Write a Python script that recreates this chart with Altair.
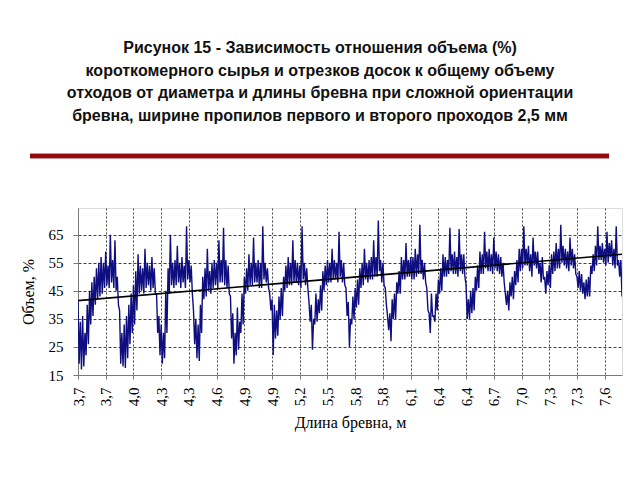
import json
import altair as alt
import pandas as pd

# ---- data ----
title_lines = [
    "Рисунок 15 - Зависимость отношения объема (%)",
    "короткомерного сырья и отрезков досок к общему объему",
    "отходов от диаметра и длины бревна при сложной ориентации",
    "бревна, ширине пропилов первого и второго проходов 2,5 мм",
]

length_labels = ["3,7", "3,7", "4,0", "4,3", "4,3", "4,6", "4,9", "4,9", "5,2", "5,5",
                 "5,8", "5,8", "6,1", "6,4", "6,4", "6,7", "7,0", "7,3", "7,3", "7,6"]
points_per_label = 24

# one row per labelled interval of the category axis (the noisy curve swings up and down at every point)
volume = [
    41, 19, 34, 17, 36, 18, 30, 22, 40, 26, 45, 33, 48, 36, 50, 40, 53, 42, 55, 43, 57, 44, 55, 46,
    59, 47, 54, 46, 65, 48, 56, 46, 63, 45, 50, 40, 38, 19, 30, 18, 33, 17.5, 36, 21, 40, 26, 44, 30,
    47, 33, 52, 38, 58, 44, 54, 45, 53, 44, 60, 46, 55, 47, 54, 45, 57, 46, 53, 44, 44, 30, 36, 22,
    33, 19, 30, 21, 45, 30, 53, 44, 65, 47, 55, 46, 56, 47, 61, 48, 55, 46, 57, 48, 54, 46, 68, 49,
    56, 48, 54, 44, 38, 26, 35, 21, 33, 20, 40, 30, 50, 42, 53, 43, 60, 45, 52, 44, 55, 46, 56, 47,
    55, 46, 63, 48, 56, 48, 67.5, 47, 56, 46, 54, 44, 43, 28, 37, 19, 30, 22, 39, 24, 34, 30, 44, 33,
    50, 44, 53, 45, 58, 47, 55, 47, 64, 48, 55, 48, 56, 46, 55, 46, 68, 49, 55, 48, 53, 46, 44, 38,
    42, 22, 40, 28, 38, 29, 43, 35, 46, 36, 50, 45, 54, 46, 57, 47, 55, 47, 63, 48, 56, 48, 55, 47,
    54, 46, 68, 49, 55, 47, 53, 46, 41, 34, 40, 24, 35, 33, 44, 34, 42, 37, 47, 38, 52, 45, 54, 47,
    56, 48, 55, 48, 60, 49, 56, 49, 55, 48, 66, 50, 56, 48, 55, 47, 46, 36, 41, 25, 35, 33, 43, 35,
    46, 39, 49, 40, 53, 46, 55, 47, 60, 49, 55, 48, 56, 49, 57, 49, 63, 50, 57, 50, 70, 52, 56, 48,
    55, 47, 46, 40, 36, 31, 37, 27, 42, 35, 44, 35, 48, 44, 52, 44, 57, 49, 56, 49, 62, 50, 56, 50,
    57, 49, 57, 49, 60, 50, 58, 51, 68.5, 51, 56, 49, 55, 48, 46, 38, 37, 30, 44, 36, 36, 34, 44, 38,
    49, 44, 53, 45, 58, 50, 57, 50, 56, 51, 67.5, 52, 58, 51, 59, 51, 57, 50, 67, 52, 58, 51, 58, 50,
    47, 35, 42, 35, 45, 37, 46, 38, 50, 45, 54, 46, 59, 51, 58, 51, 66, 53, 59, 52, 60, 52, 58, 51,
    64, 53, 59, 52, 58, 51, 57, 50, 55, 48, 44, 40, 45, 38, 48, 43, 50, 42, 52, 47, 56, 48, 60, 52,
    60, 53, 68, 54, 60, 54, 61, 52, 58, 50, 64, 54, 59, 53, 59, 51, 55, 48, 57, 49, 50, 44, 52, 47,
    54, 46, 58, 51, 59, 52, 62, 53, 60, 53, 68.5, 55, 61, 54, 60, 53, 59, 52, 64, 54, 60, 53, 58, 51,
    50, 46, 52, 45, 51, 44, 48, 42, 49, 43, 50, 43, 54, 51, 58, 52, 61, 54, 68, 56, 61, 56, 62, 55,
    60, 54, 66, 55, 62, 57, 63, 54, 60, 53, 68, 54, 56, 50, 56, 43,
]

trend_start = 41.5
trend_end = 58.0

y_ticks = [15, 25, 35, 45, 55, 65]

# ---- tables ----
n = len(volume)
df = pd.DataFrame({"i": list(range(n)), "v": volume})
trend_df = pd.DataFrame({"i": [0, n - 1], "v": [trend_start, trend_end]})

x_tick_values = [k * points_per_label for k in range(len(length_labels))]
label_expr = f"{json.dumps(length_labels, ensure_ascii=False)}[round(datum.value / {points_per_label})]"

SERIF = "Liberation Serif"

x_enc = alt.X(
    "i:Q",
    scale=alt.Scale(domain=[0, n - 1], nice=False, zero=False),
    axis=alt.Axis(
        title="Длина бревна, м",
        values=x_tick_values,
        tickCount=100,
        labelExpr=label_expr,
        labelAngle=270,
        labelFont=SERIF,
        labelFontSize=15,
        labelColor="#000000",
        labelPadding=8,
        labelOverlap=False,
        labelFlush=False,
        tickSize=4,
        tickColor="#7a7a7a",
        domainColor="#7a7a7a",
        grid=True,
        gridDash=[2, 2],
        gridColor="#444444",
        gridWidth=1,
        titleFont=SERIF,
        titleFontSize=16,
        titleFontWeight="normal",
        titleColor="#000000",
        titlePadding=9,
    ),
)

y_enc = alt.Y(
    "v:Q",
    scale=alt.Scale(domain=[15, 74.5], nice=False, zero=False),
    axis=alt.Axis(
        title="Объем, %",
        values=y_ticks,
        tickCount=100,
        format="d",
        labelFont=SERIF,
        labelFontSize=15,
        labelColor="#000000",
        labelPadding=10,
        labelOverlap=False,
        tickSize=5,
        tickColor="#7a7a7a",
        domainColor="#7a7a7a",
        grid=True,
        gridDash=[3, 2],
        gridColor="#444444",
        gridWidth=1,
        titleFont=SERIF,
        titleFontSize=16,
        titleFontWeight="normal",
        titleColor="#000000",
        titlePadding=12,
    ),
)

series = alt.Chart(df).mark_line(color="#0e0e80", strokeWidth=1.4, clip=True).encode(x=x_enc, y=y_enc)

trend = alt.Chart(trend_df).mark_line(color="#000000", strokeWidth=1.6).encode(x="i:Q", y="v:Q")

red_rule = alt.Chart(trend_df).mark_rule(color="#960a0f", strokeWidth=4.5).encode(
    x=alt.value(-48), x2=alt.value(531), y=alt.value(-52)
)

chart = (
    alt.layer(series, trend, red_rule)
    .properties(
        width=544,
        height=167,
        autosize=alt.AutoSizeParams(type="none"),
        padding={"left": 70, "top": 200, "right": 10, "bottom": 60},
        title=alt.TitleParams(
            text=title_lines,
            font="Liberation Sans",
            fontSize=16,
            fontWeight="bold",
            color="#111111",
            lineHeight=22.5,
            anchor="middle",
            dx=-30,
            offset=30,
        ),
    )
    .configure_view(stroke=None)
    .configure(background="#ffffff")
)

chart.save("out.html", embed_options={"renderer": "svg", "actions": False})
